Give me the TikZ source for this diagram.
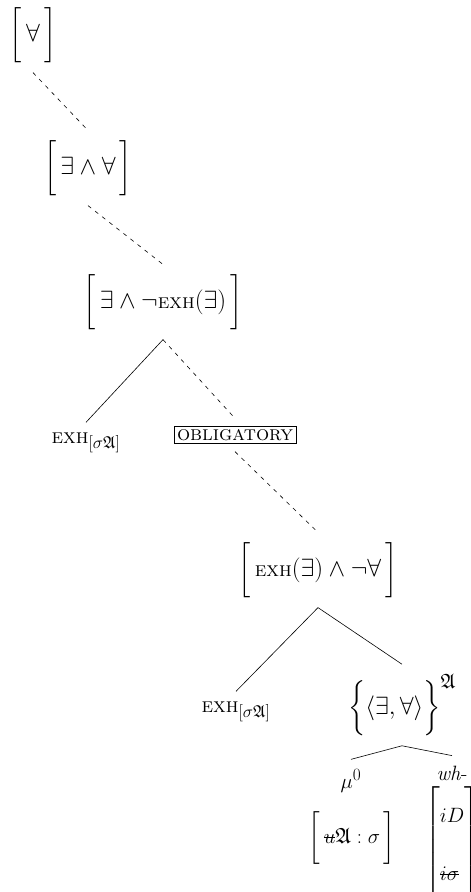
\documentclass[tikz,border=0pt]{standalone}
\usepackage{exscale}
\usepackage{amssymb}
\DeclareMathSizes{20.74}{20.74}{17.28}{14.4}
\DeclareMathSizes{23}{23}{20.74}{17.28}
\DeclareMathSizes{22}{22}{17.28}{14.4}
\tikzstyle{bundle}=[inner sep=0pt, outer sep=10pt, font=\fontsize{23}{28}\selectfont]
\tikzstyle{feat}=[inner sep=0pt, outer sep=10pt, font=\fontsize{22}{26}\selectfont]
\tikzstyle{word}=[inner sep=0pt, outer sep=10pt, font=\huge, anchor=base]
\tikzstyle{boxed}=[draw, line width=0.6pt, inner sep=3pt, outer sep=8pt, font=\huge]
\tikzstyle{branch}=[line width=0.6pt]
\tikzstyle{move}=[line width=0.6pt, dash pattern=on 4pt off 5pt]
\newcommand{\brk}[1]{$\left[\vrule height 1.3em depth 0.8em width 0pt\,#1\,\right]$}
\newcommand{\exh}{\mbox{\huge\textsc{exh}}}
\newcommand{\struck}[1]{\mbox{\setbox0=\hbox{$#1$}\rlap{\copy0}\rule[0.22em]{\wd0}{0.05em}}}

\begin{document}
\begin{tikzpicture}[x=1pt, y=-1pt]
    \useasboundingbox (0,0) rectangle (471,892);

    %upper spine
    \node [bundle] (top) at (33,35) {\brk{\forall}};
    \node [bundle] (mid) at (88,168) {\brk{\exists \wedge \forall}};
    \node [bundle] (neg) at (163,302) {\brk{\exists \wedge \neg\exh(\exists)}};
    \node [word] (exhA) at (86,443) {\exh$_{[\sigma\mathfrak{A}]}$};
    \node [boxed] (oblig) at (235,435) {\textsc{obligatory}};

    %lower tree
    \node [bundle] (low) at (318,570) {\brk{\exh(\exists) \wedge \neg\forall}};
    \node [word] (exhB) at (236,712) {\exh$_{[\sigma\mathfrak{A}]}$};
    \node [bundle] (alts) at (402,705) {$\left\{\vrule height 1.3em depth 0.8em width 0pt\langle\exists, \forall\rangle\right\}^{\mathfrak{A}}$};
    \node [word] (mu) at (351,788) {$\mu^0$};
    \node [word] (wh) at (452,780) {\textit{wh}-};

    %feature bundles
    \node [feat] (mufeat) at (352,838) {\brk{\struck{u}\mathfrak{A} : \sigma}};
    \node [feat] (whfeat) at (452,846) {$\left[\vrule height 64pt depth 54pt width 0pt\begin{array}{@{}l@{}} iD\\[32pt] \struck{i\sigma}\end{array}\right]$};

    \draw [move] (top.south) -- (mid.north);
    \draw [move] (mid.south) -- (neg.north);
    \draw [branch] (neg.south) -- (exhA.north);
    \draw [move] (neg.south) -- (oblig.north);
    \draw [move] (oblig.south) -- (low.north);
    \draw [branch] (low.south) -- (exhB.north);
    \draw [branch] (low.south) -- (alts.north);
    \draw [branch] (alts.south) -- (mu.north);
    \draw [branch] (alts.south) -- (wh.north);

\end{tikzpicture}
\end{document}
